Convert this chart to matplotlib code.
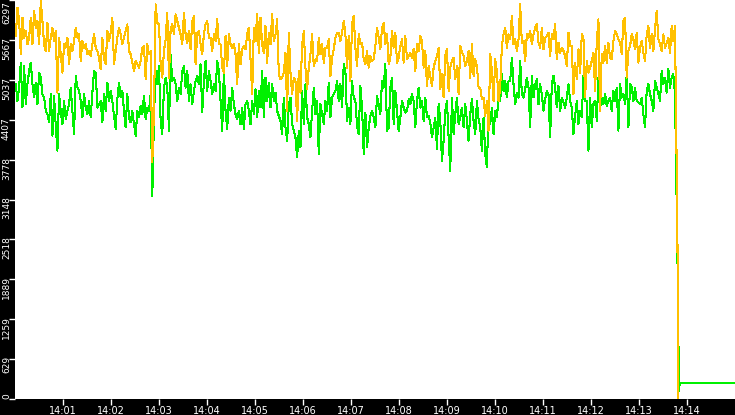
import numpy as np
import matplotlib
matplotlib.use("Agg")
import matplotlib.pyplot as plt
from matplotlib.transforms import offset_copy

# time is in seconds after 14:00:00, samples evenly spaced over the run
t_first, t_last = 1, 825

orange_vals = [
    5729, 6175, 5965, 5440, 6018, 5703, 5808, 5598, 5703, 6018,
    5598, 6123, 5860, 5965, 5598, 6280, 5965, 5598, 5493, 5939,
    5493, 5703, 5860, 5650, 5808, 4836, 5703, 5440, 5151, 5598,
    5545, 5703, 5283, 5598, 5493, 5650, 5860, 5703, 5755, 5335,
    5650, 5545, 5598, 5440, 5493, 5414, 5598, 5755, 5545, 5493,
    5388, 5204, 5703, 5361, 5283, 5808, 5650, 5781, 6018, 5283,
    5493, 5703, 5860, 5755, 5598, 5703, 5808, 5913, 5493, 5440,
    5309, 5178, 5335, 5283, 5230, 5335, 5545, 5571, 5046, 5598,
    5440, 5493, 3734, 4548, 6228, 5939, 5913, 5283, 5073, 5493,
    5676, 6096, 5073, 5834, 5913, 5755, 6070, 5965, 5860,
    5755, 5598, 6096, 5755, 5624, 5808, 5519, 5965, 6044, 5283,
    5781, 5808, 5598, 5440, 5755, 5913, 5965, 5703, 5703, 5493,
    5755, 5650, 5991, 5598, 5598, 5230, 5151, 5729, 5256, 5755,
    5598, 5545, 5598, 5440, 4968, 5598, 5283, 5519, 5571, 5519,
    5755, 5860, 5361, 4810, 5860, 5650, 6070, 5466, 6018, 5598,
    5466, 5886, 5309, 5781, 5598, 6070, 5650, 5755, 5991, 5125,
    5046, 5073, 5151, 5466, 4548, 5781, 5151, 4810, 5073, 5020,
    4390, 5178, 4836, 5598, 5808, 5230, 4889, 5230, 5440, 5755,
    5256, 5361, 5335, 5703, 5440, 5598, 5309, 5545, 5545, 5676,
    5099, 5388, 5519, 5703, 5781, 5781, 5650, 5781, 5965,
    5755, 5230, 5729, 5020, 5913, 6044, 5545, 5256, 5755, 5598,
    5624, 5361, 5283, 5493, 5230, 5414, 5335, 5361, 5571, 5860,
    5703, 5519, 5860, 5939, 5598, 5755, 5283, 5388, 5808, 5545,
    5781, 5309, 5388, 5571, 5676, 5309, 5729, 5361, 5414, 5466,
    5388, 5519, 5178, 5598, 5493, 5729, 5650, 5230, 5493, 4941,
    5256, 5099, 4941, 5230, 5335, 5414, 5545, 4889, 5125, 4758,
    5414, 5519, 4863, 5230, 5335, 5388, 5046, 5256, 4810, 5571,
    5466, 5414, 5256, 5335, 5493, 5073, 5598, 5099, 5361, 5256,
    4915, 4915, 4731, 4758, 4469, 4705, 4233, 5440, 5178, 4705,
    5361, 5178, 4705, 4915, 5571, 5755, 5860, 5545, 5755,
    5676, 6044, 5598, 5676, 5493, 5676, 6228, 5624, 5650, 5335,
    5755, 5703, 5808, 5598, 5755, 5860, 5913, 5624, 5545, 5860,
    5519, 5703, 5729, 5781, 5414, 5755, 5676, 5913, 5361, 5624,
    5466, 5545, 5493, 5414, 5256, 5781, 5571, 5571, 4810, 5309,
    5046, 5519, 5151, 5755, 5703, 4758, 5335, 5151, 5230, 5335,
    5466, 4863, 5650, 5991, 4548, 5440, 5309, 5571, 5309, 5624,
    5388, 5361, 5650, 5808, 5755, 5676, 5624, 5440, 5965, 6018,
    5073, 5493, 5571, 5755, 5676, 5519, 5781, 5309, 5545, 5650,
    5466, 5335, 5755, 5886, 5545, 5755, 5493, 5834, 6123, 5676,
    5598, 5493, 5755, 5545, 5624, 5703, 5466, 5886, 5650, 5886,
]

green_vals = [
    4968, 4705, 4915, 5309, 4600, 5256, 4653, 4968, 5178, 5309,
    4968, 4758, 4994, 4653, 5151, 5073, 4810, 4758, 4548, 4495,
    4364, 4810, 4154, 4784, 4311, 3918, 4810, 4548, 4338, 4705,
    4416, 4548, 4653, 4915, 4548, 4180, 5099, 4915, 4863, 4705,
    4443, 4810, 4600, 4495, 4705, 4443, 4836, 5178, 5151, 4600,
    4653, 4705, 4364, 4810, 4548, 4994, 4705, 4863, 4705, 4469,
    4259, 4731, 4994, 4758, 4863, 4548, 4285, 4810, 4443, 4364,
    4548, 4338, 4154, 4548, 4443, 4626, 4495, 4784, 4416, 4600,
    4548, 4810, 3209, 4443, 5178, 4968, 5256, 4390, 4180, 4915,
    5073, 4915, 4233, 5440, 5020, 5073, 4968, 4705, 4915,
    4810, 5178, 5256, 4915, 5178, 4705, 4968, 4653, 4863, 5020,
    5099, 4968, 5283, 4521, 5020, 5335, 4863, 5178, 5020, 4810,
    4968, 4863, 5335, 5178, 4705, 4233, 5178, 4548, 4259, 4758,
    4548, 4915, 4653, 4495, 4416, 4548, 4338, 4600, 4259, 4653,
    4705, 4548, 4338, 4705, 4495, 4889, 4443, 4863, 4600, 5178,
    4443, 5073, 4705, 4994, 4600, 4968, 4705, 4836, 4548, 4469,
    4390, 4180, 4758, 4285, 4075, 4653, 4758, 4338, 4233, 4128,
    3813, 4233, 3970, 4863, 4338, 4968, 4443, 4338, 4128, 4548,
    4915, 4495, 4705, 3865, 4653, 4495, 4338, 4705, 4548, 4994,
    4443, 4758, 4810, 4863, 5020, 4705, 4968, 4600, 5283,
    5178, 4390, 4600, 4338, 5020, 4758, 4705, 4311, 4180, 4941,
    4600, 3865, 4521, 3970, 4285, 4469, 4548, 4443, 4285, 4784,
    4653, 4495, 5020, 4915, 5283, 4233, 4285, 4915, 5073, 4338,
    4863, 4548, 4233, 4443, 4705, 4600, 4521, 4548, 4731, 4653,
    4810, 4705, 4285, 4705, 4915, 4600, 4705, 4390, 4758, 4443,
    4469, 4364, 4128, 4285, 4443, 3944, 4653, 4390, 3760, 4075,
    4548, 4705, 4128, 3603, 4758, 4180, 4495, 4758, 4338, 4443,
    4600, 4285, 4653, 4390, 4075, 4495, 4731, 4390, 4180, 4705,
    4416, 4285, 3918, 4443, 3865, 3655, 4548, 4338, 4600, 4180,
    4548, 4443, 4758, 4705, 5125, 4863, 5020, 4758, 5020,
    5020, 5388, 4968, 4653, 4836, 4758, 5335, 4810, 4758, 4889,
    5073, 4915, 4285, 5099, 4758, 4968, 5046, 4653, 4968, 4810,
    4548, 4731, 4863, 4810, 4128, 4968, 5099, 4915, 4600, 4941,
    4548, 4758, 4679, 4600, 4758, 4968, 4705, 4600, 4180, 4469,
    4705, 4338, 4548, 4443, 5099, 4705, 4705, 3918, 4758, 4285,
    4653, 4705, 4390, 5073, 4600, 4758, 4653, 4810, 4626, 4705,
    4758, 4548, 4863, 4705, 4915, 4233, 4968, 4758, 4810, 4653,
    5125, 4285, 4968, 4915, 4705, 4915, 4705, 4679, 4653, 4758,
    4495, 4285, 4863, 4968, 4810, 4705, 4548, 5020, 4915, 4810,
    4705, 5178, 4968, 5073, 4836, 5204, 4915, 5073, 5125, 4810,
]

# the drop at the end of the run
orange_tail_t = [828, 829]
orange_tail = [2720, 0]
green_tail_t = [828, 830, 831, 900]
green_tail = [2310, 130, 260, 260]

y_ticks = [0, 629, 1259, 1889, 2518, 3148, 3778, 4407, 5037, 5667, 6297]
x_tick_min = list(range(1, 15))
x_tick_labels = [f"14:{m:02d}" for m in x_tick_min]

orange_t = np.concatenate([np.linspace(t_first, t_last, len(orange_vals)), orange_tail_t])
orange_y = np.concatenate([orange_vals, orange_tail])
green_t = np.concatenate([np.linspace(t_first, t_last, len(green_vals)), green_tail_t])
green_y = np.concatenate([green_vals, green_tail])

fig = plt.figure(figsize=(7.35, 4.15), dpi=100, facecolor="black")
ax = fig.add_axes([15 / 735, 16 / 415, 720 / 735, 399 / 415])
ax.set_facecolor("white")

ax.plot(green_t, green_y, color="#00f000", lw=0.75, antialiased=False)
ax.plot(orange_t, orange_y, color="#ffc000", lw=0.75, antialiased=False)

ax.set_xlim(0, 900)
ax.set_ylim(0, 6297)

for s in ax.spines.values():
    s.set_visible(False)

ax.set_xticks([m * 60 for m in x_tick_min])
ax.set_xticklabels(x_tick_labels)
ax.set_yticks(y_ticks)
ax.set_yticklabels([])

ax.tick_params(axis="both", colors="white", labelsize=7, length=4, width=1,
               direction="out", pad=1)

# rotated value labels hang down from their tick; "0" sits above its tick
ytf = ax.get_yaxis_transform()
hang = offset_copy(ytf, fig=fig, y=3, units="dots")
top_in = offset_copy(ytf, fig=fig, y=-1, units="dots")
for v in y_ticks:
    if v == 0:
        tf, va = ytf, "bottom"
    elif v == y_ticks[-1]:
        tf, va = top_in, "top"
    else:
        tf, va = hang, "top"
    ax.text(-8.5 / 720, v, str(v), transform=tf, rotation=90,
            ha="center", va=va, color="white", fontsize=6.5, clip_on=False)

fig.savefig("out.png", dpi=100, facecolor="black")
